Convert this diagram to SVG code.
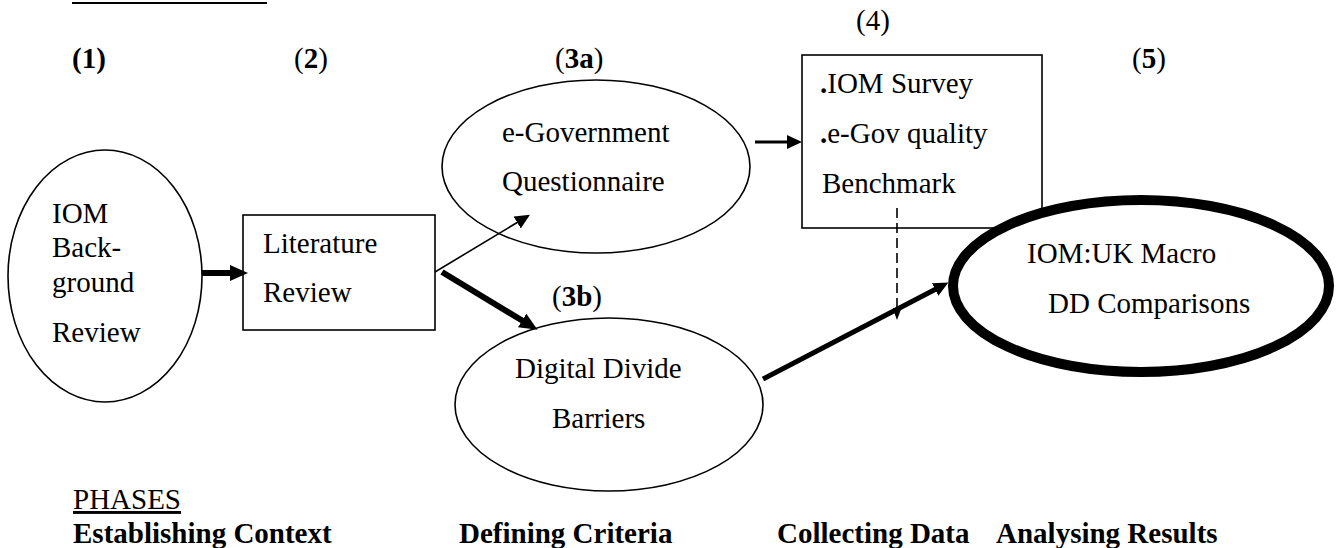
<svg xmlns="http://www.w3.org/2000/svg" width="1339" height="548" viewBox="0 0 1339 548">
<defs>
<style>
text{font-family:"Liberation Serif","Times New Roman",serif;font-size:29px;fill:#000}
.b{font-weight:bold}
.shape{fill:#fff;stroke:#000;stroke-width:1.6}
.big{fill:#fff;stroke:#000;stroke-width:10}
.thick{stroke:#000;stroke-width:6;fill:none}
.mid{stroke:#000;stroke-width:3;fill:none}
.thin{stroke:#000;stroke-width:1.6;fill:none}
.dash{stroke:#000;stroke-width:1.6;fill:none;stroke-dasharray:10 5}
</style>
<marker id="ahBig" markerUnits="userSpaceOnUse" markerWidth="18" markerHeight="16" refX="1" refY="8" orient="auto"><path d="M0,0 L18,8 L0,16 z" fill="#000"/></marker>
<marker id="ahSmall" markerUnits="userSpaceOnUse" markerWidth="15" markerHeight="14" refX="1" refY="7" orient="auto"><path d="M0,0 L15,7 L0,14 z" fill="#000"/></marker>
<marker id="ahTiny" markerUnits="userSpaceOnUse" markerWidth="12" markerHeight="9" refX="1" refY="4.5" orient="auto"><path d="M0,0 L12,4.5 L0,9 z" fill="#000"/></marker>
</defs>
<rect width="1339" height="548" fill="#fff"/>
<line x1="72" y1="3" x2="267" y2="3" stroke="#000" stroke-width="2"/>
<g id="labels">
<text x="72" y="68" class="b">(1)</text>
<text x="294" y="68">(<tspan class="b">2</tspan>)</text>
<text x="555" y="68">(<tspan class="b">3a</tspan>)</text>
<text x="856" y="30">(4)</text>
<text x="1132" y="68">(<tspan class="b">5</tspan>)</text>
<text x="552" y="306">(<tspan class="b">3b</tspan>)</text>
</g>
<g id="n1">
<ellipse class="shape" cx="105" cy="276" rx="97" ry="126"/>
<text x="52" y="223">IOM</text>
<text x="52" y="257">Back-</text>
<text x="52" y="292">ground</text>
<text x="52" y="342">Review</text>
</g>
<g id="n2">
<rect class="shape" x="243" y="215" width="192" height="115"/>
<text x="263" y="253">Literature</text>
<text x="263" y="302">Review</text>
</g>
<g id="n3a">
<ellipse class="shape" cx="596" cy="166.5" rx="154" ry="86.5"/>
<text x="502" y="142">e-Government</text>
<text x="502" y="191">Questionnaire</text>
</g>
<g id="n3b">
<ellipse class="shape" cx="609" cy="404.5" rx="154" ry="86.5"/>
<text x="515" y="378">Digital Divide</text>
<text x="552" y="428">Barriers</text>
</g>
<g id="n4">
<rect class="shape" x="802" y="55" width="240" height="173"/>
<text x="820" y="93"><tspan class="b">.</tspan>IOM Survey</text>
<text x="820" y="143"><tspan class="b">.</tspan>e-Gov quality</text>
<text x="822" y="193">Benchmark</text>
</g>
<g id="n5">
<ellipse class="big" cx="1141" cy="286" rx="188" ry="86"/>
<text x="1027" y="263">IOM:UK Macro</text>
<text x="1048" y="313">DD Comparisons</text>
</g>
<g id="connectors">
<line class="thick" x1="202" y1="273" x2="231" y2="273" marker-end="url(#ahBig)"/>
<line class="thin" x1="435" y1="272" x2="518" y2="222" marker-end="url(#ahSmall)"/>
<line class="thick" x1="442" y1="272" x2="523" y2="321" marker-end="url(#ahBig)"/>
<line class="mid" x1="755" y1="142" x2="788" y2="142" marker-end="url(#ahSmall)"/>
<line class="thick" x1="763" y1="379" x2="936" y2="289" style="stroke-width:5" marker-end="url(#ahSmall)"/>
<line class="dash" x1="897" y1="208" x2="897" y2="309" marker-end="url(#ahTiny)"/>
</g>
<g id="phases">
<text x="73" y="509" text-decoration="underline">PHASES</text>
<text x="73" y="543" class="b">Establishing Context</text>
<text x="459" y="543" class="b">Defining Criteria</text>
<text x="777" y="543" class="b">Collecting Data</text>
<text x="996" y="543" class="b">Analysing Results</text>
</g>
</svg>
